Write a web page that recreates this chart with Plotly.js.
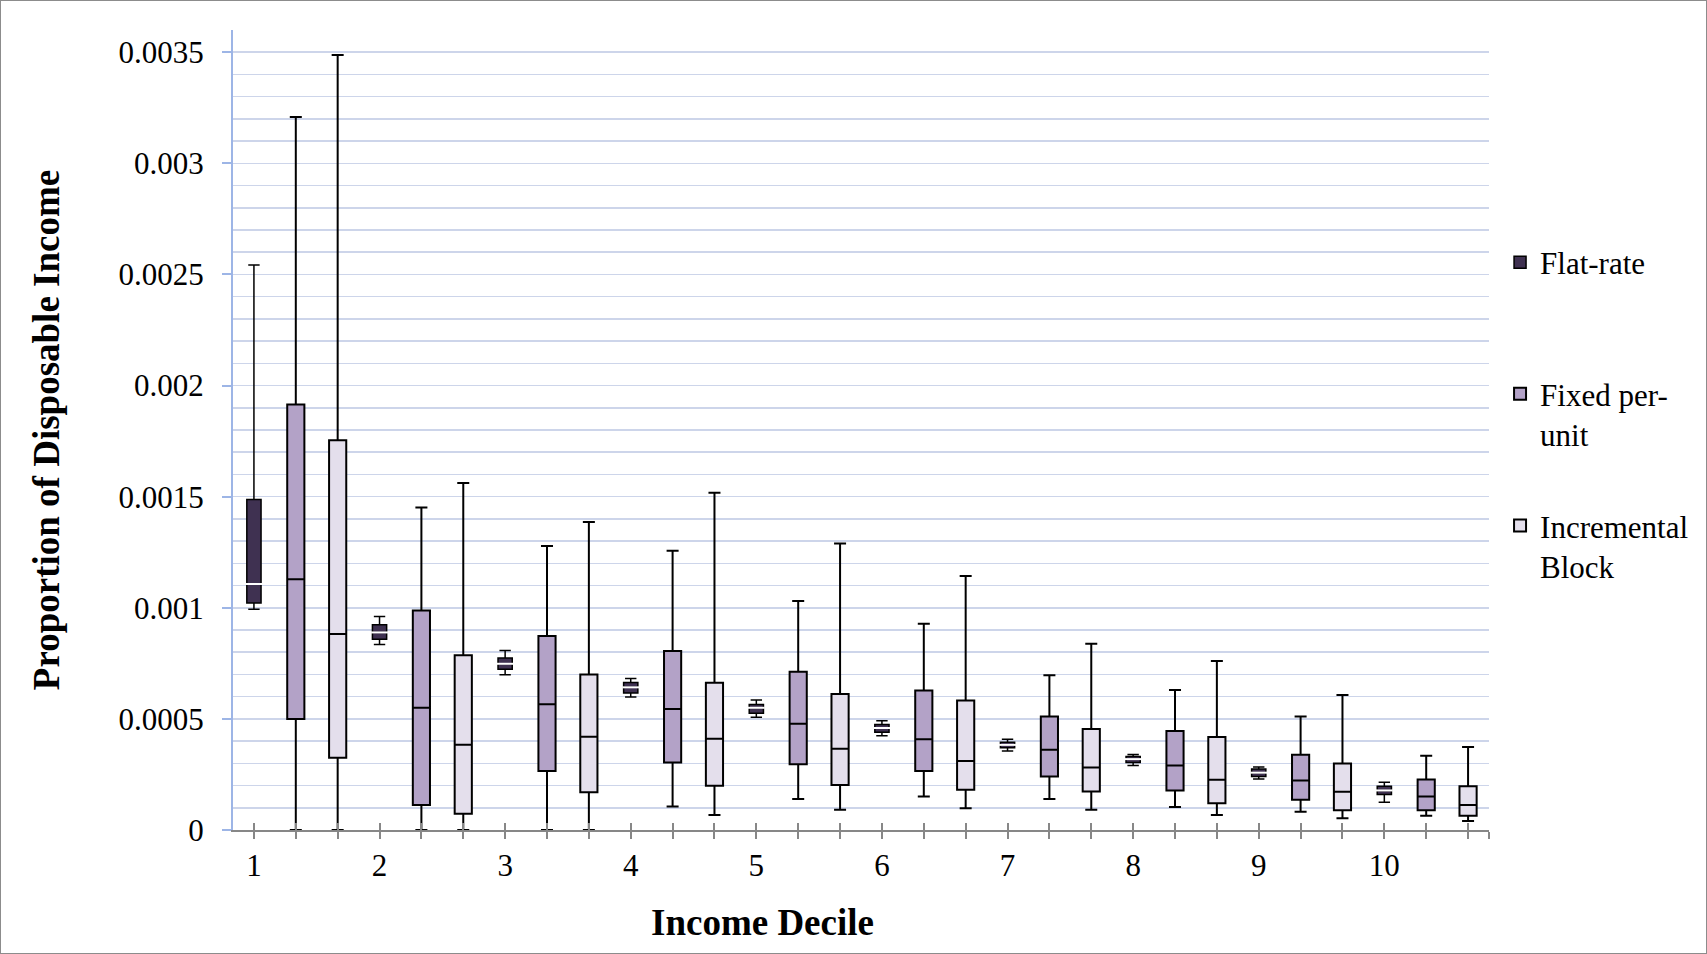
<!DOCTYPE html>
<html>
<head>
<meta charset="utf-8">
<script src="https://cdn.plot.ly/plotly-3.0.1.min.js"></script>
<style>
html,body{margin:0;padding:0;background:#ffffff;}
#chart{width:1705px;height:952px;border:1px solid #8c8c8c;}
</style>
</head>
<body>
<div id="chart"></div>
<script>
// ---- categories and tick labels ----
const deciles = ['1','2','3','4','5','6','7','8','9','10'];
const yTickVals = [0, 0.0005, 0.001, 0.0015, 0.002, 0.0025, 0.003, 0.0035];
const yTickText = ['0', '0.0005', '0.001', '0.0015', '0.002', '0.0025', '0.003', '0.0035'];

// ---- Flat-rate (lower whisker, Q1, median, Q3, upper whisker) ----
const flatLow  = [0.000993, 0.000835, 0.000699, 0.000598, 0.000507, 0.000424, 0.000355, 0.000290, 0.000229, 0.000125];
const flatQ1   = [0.001021, 0.000858, 0.000723, 0.000616, 0.000525, 0.000440, 0.000370, 0.000304, 0.000241, 0.000160];
const flatMed  = [0.001107, 0.000889, 0.000748, 0.000642, 0.000550, 0.000459, 0.000383, 0.000319, 0.000258, 0.000178];
const flatQ3   = [0.001487, 0.000924, 0.000774, 0.000664, 0.000565, 0.000475, 0.000395, 0.000331, 0.000274, 0.000197];
const flatHigh = [0.002543, 0.000961, 0.000808, 0.000682, 0.000585, 0.000492, 0.000408, 0.000340, 0.000283, 0.000215];

// ---- Fixed per-unit ----
const fixedLow  = [0, 0, 0, 0.000106, 0.000140, 0.000151, 0.000140, 0.000104, 0.000082, 0.000064];
const fixedQ1   = [0.000499, 0.000112, 0.000265, 0.000304, 0.000296, 0.000265, 0.000241, 0.000178, 0.000136, 0.000089];
const fixedMed  = [0.001128, 0.000550, 0.000566, 0.000544, 0.000478, 0.000408, 0.000361, 0.000290, 0.000223, 0.000151];
const fixedQ3   = [0.001915, 0.000988, 0.000873, 0.000805, 0.000712, 0.000628, 0.000511, 0.000445, 0.000339, 0.000227];
const fixedHigh = [0.003209, 0.001451, 0.001278, 0.001257, 0.001031, 0.000928, 0.000696, 0.000630, 0.000511, 0.000334];

// ---- Incremental Block ----
const incLow  = [0, 0, 0, 0.000068, 0.000091, 0.000098, 0.000091, 0.000067, 0.000053, 0.000041];
const incQ1   = [0.000325, 0.000073, 0.000170, 0.000199, 0.000202, 0.000181, 0.000173, 0.000120, 0.000089, 0.000064];
const incMed  = [0.000882, 0.000384, 0.000420, 0.000411, 0.000366, 0.000311, 0.000281, 0.000226, 0.000172, 0.000112];
const incQ3   = [0.001754, 0.000786, 0.000700, 0.000663, 0.000612, 0.000583, 0.000454, 0.000419, 0.000299, 0.000197];
const incHigh = [0.003488, 0.001562, 0.001386, 0.001518, 0.001289, 0.001143, 0.000838, 0.000760, 0.000607, 0.000373];

const seriesNames = ['Flat-rate<br>&nbsp;', 'Fixed per-<br>unit', 'Incremental<br>Block'];

// category slots: 3 per decile
const nSeries = 3;
const nSlots = deciles.length * nSeries;
const slotPos = (s) => deciles.map((d, i) => i * nSeries + s);

const tickVals = [];
const tickText = [];
for (let k = 0; k < nSlots; k++) {
  tickVals.push(k);
  tickText.push(k % nSeries === 0 ? deciles[k / nSeries] : '');
}
tickVals.push(nSlots - 0.5);
tickText.push('');

const serif = 'Liberation Serif, Times New Roman, serif';

const traces = [
  {
    type: 'box', name: seriesNames[0], legendgroup: 'a',
    x: slotPos(0), lowerfence: flatLow, q1: flatQ1, median: flatMed, q3: flatQ3, upperfence: flatHigh,
    fillcolor: '#3f3151', line: {color: '#000000', width: 1.5},
    width: 0.34, whiskerwidth: 0.8, boxpoints: false, hoverinfo: 'y'
  },
  {
    type: 'box', name: seriesNames[1], legendgroup: 'b',
    x: slotPos(1), lowerfence: fixedLow, q1: fixedQ1, median: fixedMed, q3: fixedQ3, upperfence: fixedHigh,
    fillcolor: '#b3a2c7', line: {color: '#000000', width: 2},
    width: 0.41, whiskerwidth: 0.7, boxpoints: false, hoverinfo: 'y'
  },
  {
    type: 'box', name: seriesNames[2], legendgroup: 'c',
    x: slotPos(2), lowerfence: incLow, q1: incQ1, median: incMed, q3: incQ3, upperfence: incHigh,
    fillcolor: '#e4dfec', line: {color: '#000000', width: 2},
    width: 0.41, whiskerwidth: 0.7, boxpoints: false, hoverinfo: 'y'
  },
  {
    // white median line on the dark Flat-rate boxes
    type: 'scatter', mode: 'markers', xaxis: 'x2', yaxis: 'y',
    x: slotPos(0), y: flatMed, showlegend: false, hoverinfo: 'skip',
    marker: {symbol: 'line-ew', size: 12, color: '#ffffff', line: {color: '#ffffff', width: 2}}
  }
];

const gridColor = '#cdd5ea';
const xRange = [-0.5, nSlots - 0.5];

const layout = {
  width: 1705, height: 952,
  margin: {l: 232, r: 217, t: 29, b: 123, pad: 0},
  paper_bgcolor: '#ffffff', plot_bgcolor: '#ffffff',
  showlegend: true,
  boxmode: 'overlay',
  font: {family: serif, color: '#000000', size: 31},
  xaxis: {
    range: xRange, autorange: false,
    tickmode: 'array', tickvals: tickVals, ticktext: tickText,
    ticks: 'outside', ticklen: 7, tickwidth: 2, tickcolor: '#878787',
    showline: true, linecolor: '#878787', linewidth: 2,
    showgrid: false, zeroline: false,
    tickfont: {family: serif, size: 31, color: '#000000'},
    fixedrange: true
  },
  xaxis2: {
    overlaying: 'x', anchor: 'y', side: 'bottom',
    range: xRange, autorange: false,
    tickmode: 'array', tickvals: tickVals, ticktext: tickText,
    ticks: 'inside', ticklen: 7, tickwidth: 2, tickcolor: '#878787',
    showticklabels: false, showline: false, showgrid: false, zeroline: false,
    fixedrange: true
  },
  yaxis: {
    range: [0, 0.0036], autorange: false,
    tickmode: 'array', tickvals: yTickVals, ticktext: yTickText,
    ticks: 'outside', ticklen: 9, tickwidth: 2, tickcolor: '#9db5e6',
    showline: true, linecolor: '#9db5e6', linewidth: 2,
    showgrid: true, gridcolor: gridColor, gridwidth: 1.5,
    minor: {tickmode: 'linear', tick0: 0, dtick: 0.0001, showgrid: true, gridcolor: gridColor, gridwidth: 1.5, ticks: ''},
    zeroline: false,
    ticklabelstandoff: 12,
    tickfont: {family: serif, size: 31, color: '#000000'},
    title: {text: 'Proportion of Disposable Income', font: {family: serif, size: 37, weight: 'bold', color: '#000000'}, standoff: 48},
    fixedrange: true
  },
  legend: {
    x: 1.0088, xanchor: 'left', y: 0.743, yanchor: 'top',
    font: {family: serif, size: 31, color: '#000000'},
    tracegroupgap: 48, valign: 'top', traceorder: 'grouped',
    bgcolor: 'rgba(0,0,0,0)', borderwidth: 0
  },
  annotations: [{
    text: 'Income Decile', xref: 'paper', yref: 'paper',
    x: 0.4212, y: -0.115, xanchor: 'center', yanchor: 'middle', showarrow: false,
    font: {family: serif, size: 37, weight: 'bold', color: '#000000'}
  }]
};

Plotly.newPlot('chart', traces, layout, {displayModeBar: false, staticPlot: true});
</script>
</body>
</html>
